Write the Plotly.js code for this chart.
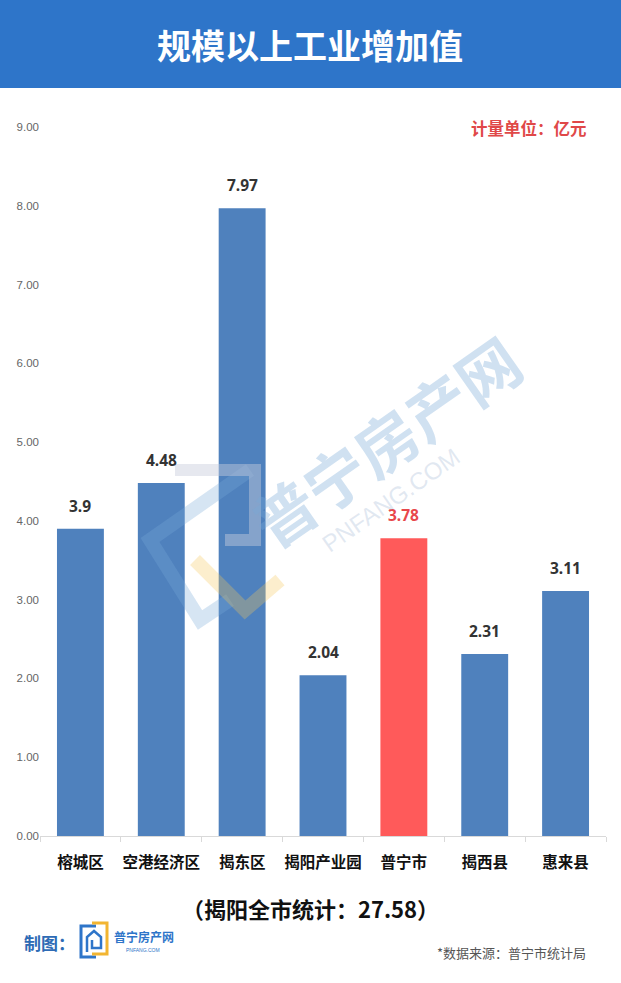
<!DOCTYPE html>
<html>
<head>
<meta charset="utf-8">
<script src="https://cdn.plot.ly/plotly-3.0.1.min.js"></script>
<style>html,body{margin:0;padding:0;background:#fff;}#chart{width:621px;height:983px;}</style>
</head>
<body>
<div id="chart"></div>
<script>
const categories = ["榕城区", "空港经济区", "揭东区", "揭阳产业园", "普宁市", "揭西县", "惠来县"];
const values = [3.9, 4.48, 7.97, 2.04, 3.78, 2.31, 3.11];
const valueLabels = ["3.9", "4.48", "7.97", "2.04", "3.78", "2.31", "3.11"];
const highlight = "普宁市";
const yTicks = [0, 1, 2, 3, 4, 5, 6, 7, 8, 9];
const yTickLabels = ["0.00", "1.00", "2.00", "3.00", "4.00", "5.00", "6.00", "7.00", "8.00", "9.00"];
const titleText = "规模以上工业增加值";
const unitText = "计量单位：亿元";
const totalText = "（揭阳全市统计：27.58）";
const sourceText = "*数据来源：普宁市统计局";

const W = 621, H = 983;
const L = 40, R = 15, T = 127, B = 147;
const pw = W - L - R, ph = H - T - B;
const px = x => (x - L) / pw;
const py = y => (H - B - y) / ph;

const BLUE = "#4F81BD", RED = "#FF5A5A";
const CJK = "Noto Sans CJK SC, Noto Sans, sans-serif";

const barColors = categories.map(c => c === highlight ? RED : BLUE);
const labelColors = categories.map(c => c === highlight ? "#E8474B" : "#333333");

const trace = {
  type: "bar",
  x: categories,
  y: values,
  marker: {color: barColors},
  hoverinfo: "x+y"
};

const annotations = categories.map((c, i) => ({
  x: c, y: values[i], xref: "x", yref: "y",
  text: "<b>" + valueLabels[i] + "</b>",
  showarrow: false, yanchor: "bottom", yshift: 10,
  font: {family: "Noto Sans, Liberation Sans, sans-serif", size: 15.5, color: labelColors[i]}
}));

annotations.push(
  {xref: "paper", yref: "paper", x: px(310), y: py(45), text: "<b>" + titleText + "</b>",
   showarrow: false, xanchor: "center", yanchor: "middle",
   font: {family: CJK, size: 34, color: "#ffffff"}},
  {xref: "paper", yref: "paper", x: px(589), y: py(128), text: "<b>" + unitText + "</b>",
   showarrow: false, xanchor: "right", yanchor: "middle",
   font: {family: CJK, size: 16.5, color: "#E04848"}},
  {xref: "paper", yref: "paper", x: px(310), y: py(908), text: "<b>" + totalText + "</b>",
   showarrow: false, xanchor: "center", yanchor: "middle",
   font: {family: CJK, size: 22, color: "#111111"}},
  {xref: "paper", yref: "paper", x: px(22), y: py(942), text: "<b>制图：</b>",
   showarrow: false, xanchor: "left", yanchor: "middle",
   font: {family: CJK, size: 17, color: "#2E6BB5"}},
  {xref: "paper", yref: "paper", x: px(112), y: py(936), text: "<b>普宁房产网</b>",
   showarrow: false, xanchor: "left", yanchor: "middle",
   font: {family: CJK, size: 12, color: "#2E75C9"}},
  {xref: "paper", yref: "paper", x: px(124), y: py(950), text: "PNFANG.COM",
   showarrow: false, xanchor: "left", yanchor: "middle",
   font: {family: "Liberation Sans, Arial", size: 5, color: "#2E75C9"}},
  {xref: "paper", yref: "paper", x: px(588), y: py(952), text: sourceText,
   showarrow: false, xanchor: "right", yanchor: "middle",
   font: {family: CJK, size: 13, color: "#555555"}},
  {xref: "paper", yref: "paper", x: px(385), y: py(440), text: "<b>普宁房产网</b>",
   showarrow: false, xanchor: "center", yanchor: "middle", textangle: -35,
   font: {family: CJK, size: 62, color: "rgba(120,170,215,0.35)"}},
  {xref: "paper", yref: "paper", x: px(390), y: py(500), text: "PNFANG.COM",
   showarrow: false, xanchor: "center", yanchor: "middle", textangle: -35,
   font: {family: "Liberation Sans, Arial", size: 24, color: "rgba(170,190,215,0.35)"}}
);

const shapes = [
  {type: "rect", xref: "paper", yref: "paper", x0: px(0), x1: px(W), y0: py(88), y1: py(0),
   fillcolor: "#2E75C9", line: {width: 0}, layer: "below"},
  // small logo at bottom
  {type: "path", xref: "paper", yref: "paper",
   path: "M " + px(96) + "," + py(926) + " L " + px(81) + "," + py(926) + " L " + px(81) + "," + py(957) + " L " + px(96) + "," + py(957),
   line: {color: "#2E75C9", width: 3}},
  {type: "path", xref: "paper", yref: "paper",
   path: "M " + px(92) + "," + py(923) + " L " + px(107) + "," + py(923) + " L " + px(107) + "," + py(954) + " L " + px(92) + "," + py(954),
   line: {color: "#F2B531", width: 3}},
  {type: "path", xref: "paper", yref: "paper",
   path: "M " + px(87) + "," + py(952) + " L " + px(87) + "," + py(937) + " L " + px(94) + "," + py(931) + " L " + px(101) + "," + py(937) + " L " + px(101) + "," + py(948) + " L " + px(92) + "," + py(948) + " L " + px(92) + "," + py(940),
   line: {color: "#2E75C9", width: 2.5}},
  // watermark logo outline
  {type: "path", xref: "paper", yref: "paper",
   path: "M " + px(250) + "," + py(470) + " L " + px(150) + "," + py(540) + " L " + px(200) + "," + py(620) + " L " + px(230) + "," + py(600),
   line: {color: "rgba(120,170,215,0.3)", width: 14}},
  {type: "path", xref: "paper", yref: "paper",
   path: "M " + px(175) + "," + py(470) + " L " + px(255) + "," + py(470) + " L " + px(255) + "," + py(540) + " L " + px(225) + "," + py(540),
   line: {color: "rgba(200,205,220,0.45)", width: 12}},
  {type: "path", xref: "paper", yref: "paper",
   path: "M " + px(195) + "," + py(560) + " L " + px(245) + "," + py(610) + " L " + px(280) + "," + py(580),
   line: {color: "rgba(245,200,90,0.3)", width: 14}}
];

const layout = {
  width: W, height: H,
  margin: {l: L, r: R, t: T, b: B, pad: 0},
  paper_bgcolor: "#ffffff", plot_bgcolor: "#ffffff",
  showlegend: false,
  bargap: 0.42,
  xaxis: {
    type: "category",
    showgrid: false, zeroline: false,
    showline: true, linecolor: "#D9D9D9", linewidth: 1,
    ticks: "outside", tickson: "boundaries", ticklen: 5, tickcolor: "#D9D9D9",
    tickangle: 0,
    ticklabelstandoff: 12,
    tickfont: {family: CJK, size: 15.5, color: "#111111", weight: "bold"},
    fixedrange: true
  },
  yaxis: {
    range: [0, 9],
    tickvals: yTicks, ticktext: yTickLabels,
    showgrid: false, zeroline: false, showline: false,
    ticks: "",
    tickfont: {family: "Liberation Sans, Arial, sans-serif", size: 11.5, color: "#666666"},
    fixedrange: true
  },
  annotations: annotations,
  shapes: shapes
};

Plotly.newPlot("chart", [trace], layout, {displayModeBar: false, staticPlot: true});
</script>
</body>
</html>
